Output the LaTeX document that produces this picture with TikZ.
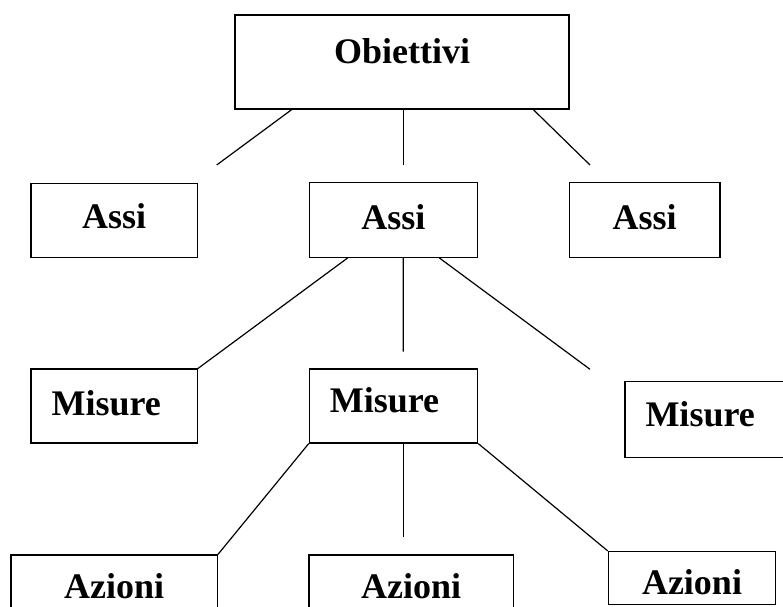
\documentclass[tikz,border=0pt]{standalone}
\usepackage{fontspec}
\setmainfont{Liberation Serif}

\begin{document}
\begin{tikzpicture}[x=1pt, y=-1pt]

\tikzset{drawbox/.style={draw, rectangle, line width=1.2pt, inner sep=0pt, text height=24pt, font=\bfseries\fontsize{36}{40}\selectfont}}
\tikzset{leftbox/.style={drawbox, align=left, inner xsep=20.5pt}}
\tikzset{drawline/.style={line width=1.2pt}}

\useasboundingbox (0, 0) rectangle (783, 606);

% top level
\node[drawbox, minimum width=334pt, minimum height=94pt, text depth=21.4pt] at (402, 62) (obj) {Obiettivi};

% assi
\node[drawbox, minimum width=166.5pt, minimum height=74.5pt, text depth=9pt] at (114.2, 220.5) (assiL) {Assi};
\node[drawbox, minimum width=168.2pt, minimum height=74.6pt, text depth=6pt] at (393.4, 220) (assiM) {Assi};
\node[drawbox, minimum width=150.7pt, minimum height=75pt, text depth=5.8pt] at (644.6, 220.2) (assiR) {Assi};

% misure
\node[leftbox, text width=125.3pt, minimum height=73.9pt, text depth=4.6pt] at (114.2, 406) (misL) {Misure};
\node[leftbox, text width=127.4pt, minimum height=74pt, text depth=10.6pt] at (393.5, 406) (misM) {Misure};
\node[leftbox, text width=125pt, minimum height=75.8pt, text depth=9.8pt] at (708, 419.6) (misR) {Misure};

% azioni
\node[drawbox, minimum width=206.3pt, minimum height=74pt, text depth=11pt] at (114.2, 592) (azL) {Azioni};
\node[drawbox, minimum width=204.3pt, minimum height=74pt, text depth=11pt] at (411.2, 592) (azM) {Azioni};
\node[drawbox, minimum width=167.4pt, minimum height=53pt, text height=32pt, text depth=0pt] at (692, 578) (azR) {Azioni};

% free ends
\coordinate (oa1) at (216.7, 165);
\coordinate (oa2) at (403.3, 165);
\coordinate (oa3) at (590, 165);
\coordinate (am2) at (403.3, 351.7);
\coordinate (am3) at (590, 369.3);
\coordinate (ma2) at (403.3, 537.3);

% links
\draw[drawline] ([xshift=-110.3pt]obj.south) -- (oa1);
\draw[drawline] ([xshift=1.3pt]obj.south) -- (oa2);
\draw[drawline] ([xshift=131.3pt]obj.south) -- (oa3);
\draw[drawline] ([xshift=-45.7pt]assiM.south) -- (misL.north east);
\draw[drawline] ([xshift=9.9pt]assiM.south) -- (am2);
\draw[drawline] ([xshift=45.9pt]assiM.south) -- (am3);
\draw[drawline] (misM.south west) -- (azL.north east);
\draw[drawline] ([xshift=9.8pt]misM.south) -- (ma2);
\draw[drawline] (misM.south east) -- (azR.north west);

\end{tikzpicture}
\end{document}
